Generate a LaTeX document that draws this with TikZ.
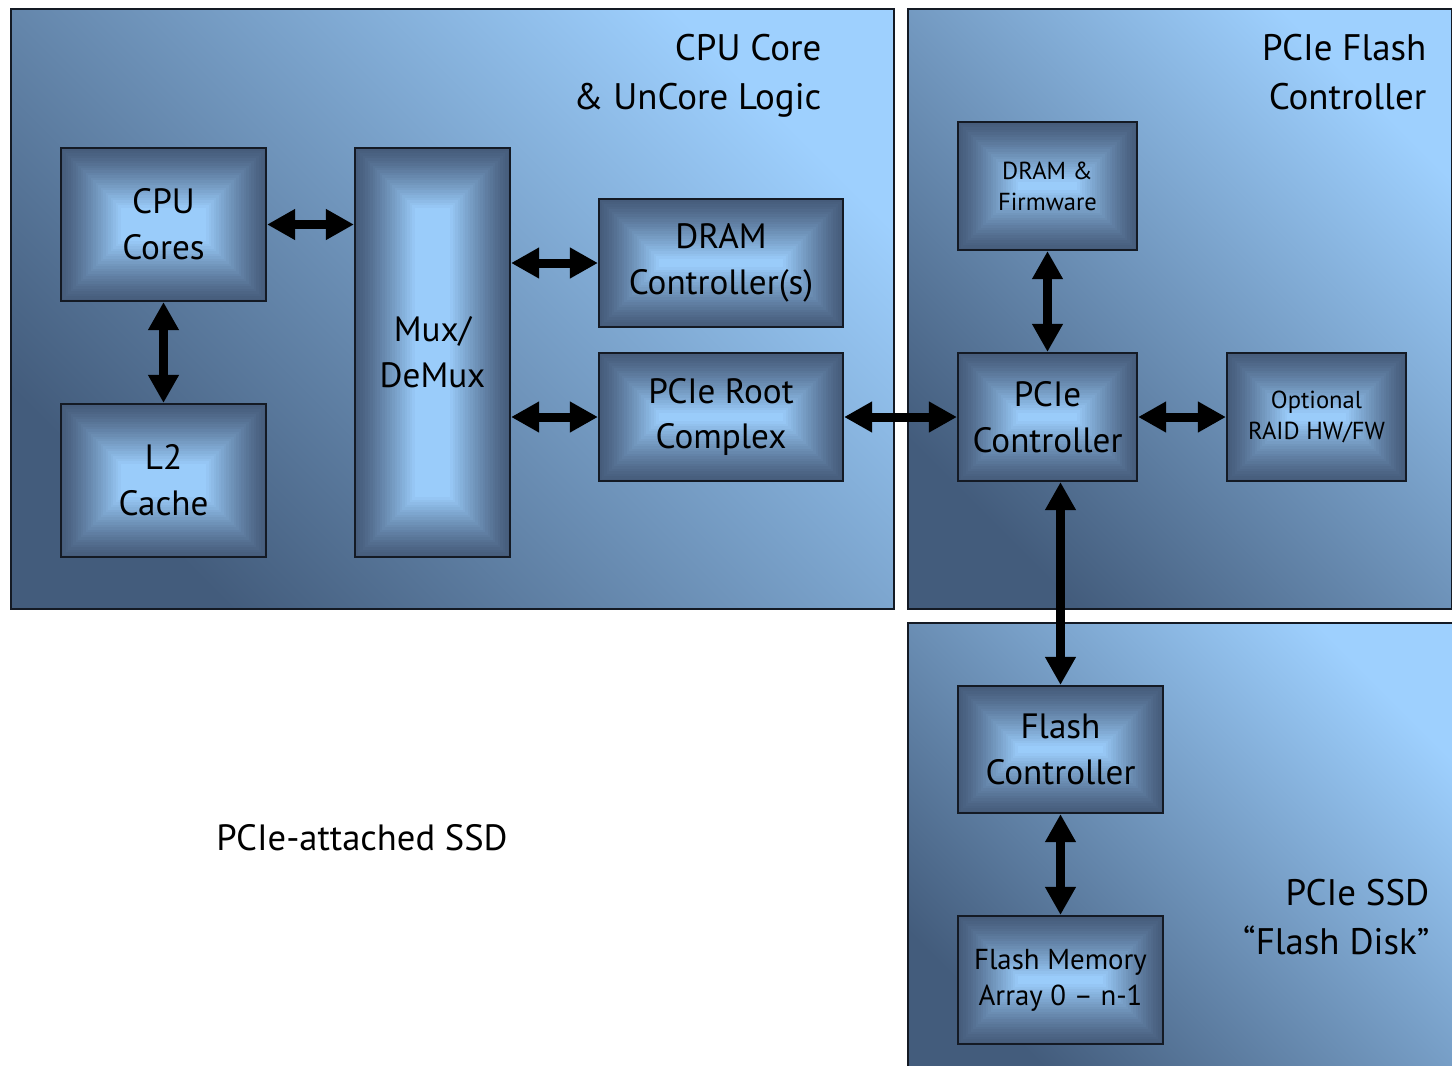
\documentclass[tikz,border=0pt]{standalone}
\usepackage{fontspec}
\setmainfont{PT Sans}
\usetikzlibrary{arrows.meta}

\definecolor{panelhi}{HTML}{9ED0FE}
\definecolor{panellow}{HTML}{435C7C}
\definecolor{rimline}{HTML}{141A24}
\definecolor{boxcore}{HTML}{9ACCFA}
\definecolor{boxrim}{HTML}{465C7B}

\begin{document}
\begin{tikzpicture}[
    panel/.style={draw=rimline, line width=0.6pt, top color=panelhi, bottom color=panellow, shading angle=-45, inner sep=0pt},
    % light centre, darker rim
    blk/.style={draw=rimline, line width=0.6pt, inner sep=0pt, align=center, font=\fontsize{10}{13}\selectfont,
      path picture={
        \foreach \k in {0,...,24} {
          \pgfmathsetmacro\mixv{100*(\k/24)^1.2}
          \fill[boxcore!\mixv!boxrim] ([shift={(\k*0.025,-\k*0.025)}]path picture bounding box.north west) rectangle ([shift={(-\k*0.025,\k*0.025)}]path picture bounding box.south east);
        }
      }},
    smallblk/.style={blk, font=\fontsize{7}{8.8}\selectfont},
    midblk/.style={blk, font=\fontsize{8.2}{10.2}\selectfont},
    heading/.style={inner sep=0pt, align=right, anchor=north east, font=\fontsize{10.5}{13.7}\selectfont},
    link/.style={{Triangle[length=0.28cm,width=0.29cm]}-{Triangle[length=0.28cm,width=0.29cm]}, line width=0.09cm}
  ]
  \useasboundingbox (0,0) rectangle (14.52,-10.65);

  % Panels
  \node[panel, anchor=north west, minimum width=8.83cm, minimum height=6cm] (cpupanel) at (0.10,-0.08) {};
  \node[panel, anchor=north west, minimum width=5.435cm, minimum height=6cm] (fcpanel) at (9.07,-0.08) {};
  \node[panel, anchor=north west, minimum width=5.6cm, minimum height=4.6cm] (ssdpanel) at (9.07,-6.22) {};

  \node[heading] (cputitle) at (8.22,-0.34) {CPU Core\\\& UnCore Logic};
  \node[heading] (fctitle) at (14.27,-0.34) {PCIe Flash\\Controller};
  \node[heading] (ssdtitle) at (14.30,-8.79) {PCIe SSD\\“Flash Disk”};

  % CPU side
  \node[blk, minimum width=2.05cm, minimum height=1.53cm] (cpu) at (1.635,-2.245) {CPU\\Cores};
  \node[blk, minimum width=2.05cm, minimum height=1.53cm] (l2) at (1.635,-4.805) {L2\\Cache};
  \node[blk, minimum width=1.55cm, minimum height=4.09cm] (mux) at (4.325,-3.525) {Mux/\\DeMux};
  \node[blk, minimum width=2.44cm, minimum height=1.28cm] (dram) at (7.21,-2.63) {DRAM\\Controller(s)};
  \node[blk, minimum width=2.44cm, minimum height=1.28cm] (root) at (7.21,-4.17) {PCIe Root\\Complex};

  % Flash controller side
  \node[smallblk, minimum width=1.79cm, minimum height=1.28cm] (fw) at (10.475,-1.86) {DRAM \&\\Firmware};
  \node[blk, minimum width=1.79cm, minimum height=1.28cm] (pcie) at (10.475,-4.17) {PCIe\\Controller};
  \node[smallblk, minimum width=1.79cm, minimum height=1.28cm] (raid) at (13.165,-4.17) {Optional\\RAID HW/FW};

  % SSD side
  \node[blk, minimum width=2.05cm, minimum height=1.27cm] (flashctl) at (10.605,-7.495) {Flash\\Controller};
  \node[midblk, minimum width=2.05cm, minimum height=1.28cm] (flashmem) at (10.605,-9.80) {Flash Memory\\Array 0 – n-1};

  \node[inner sep=0pt, font=\fontsize{10.4}{12}\selectfont] (caption) at (3.62,-8.38) {PCIe-attached SSD};

  % Arrows
  \draw[link] (cpu.east) -- (cpu.east -| mux.west);
  \draw[link] (cpu.south) -- (l2.north);
  \draw[link] (dram.west -| mux.east) -- (dram.west);
  \draw[link] (root.west -| mux.east) -- (root.west);
  \draw[link] (root.east) -- (pcie.west);
  \draw[link] (fw.south) -- (pcie.north);
  \draw[link] (pcie.east) -- (raid.west);
  \draw[link] (flashctl.north |- pcie.south) -- (flashctl.north);
  \draw[link] (flashctl.south) -- (flashmem.north);
\end{tikzpicture}
\end{document}
